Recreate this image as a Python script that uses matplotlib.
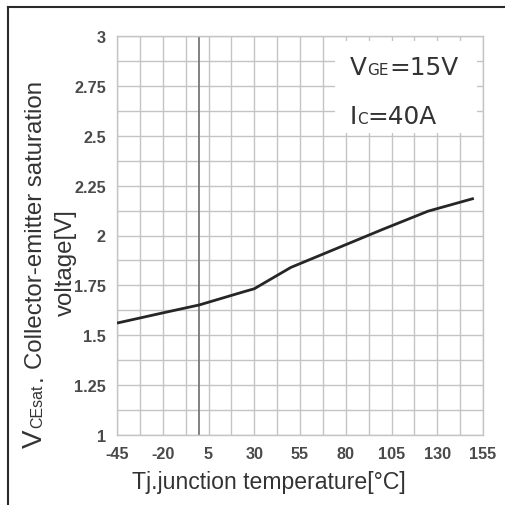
import matplotlib
matplotlib.use("Agg")
import matplotlib.pyplot as plt
from matplotlib.transforms import IdentityTransform
from matplotlib.patches import Rectangle
from matplotlib.lines import Line2D
import numpy as np

# ---- data ----
temps = [-45, -20, 0, 25, 30, 50, 75, 100, 125, 150]
vce = [1.561, 1.612, 1.652, 1.72, 1.733, 1.84, 1.935, 2.03, 2.122, 2.186]
xticks = [-45, -20, 5, 30, 55, 80, 105, 130, 155]
yticks = [1, 1.25, 1.5, 1.75, 2, 2.25, 2.5, 2.75, 3]
ytick_labels = ["1", "1.25", "1.5", "1.75", "2", "2.25", "2.5", "2.75", "3"]

W, H = 505, 506
fig = plt.figure(figsize=(W / 100, H / 100), dpi=100)
fig.patch.set_facecolor("white")

L, R, T, B = 117, 483, 37, 436
ax = fig.add_axes([L / W, (H - B) / H, (R - L) / W, (B - T) / H])
ax.set_xlim(-45, 155)
ax.set_ylim(1, 3)
ax.set_xticks(xticks)
ax.set_xticklabels([str(t) for t in xticks])
ax.set_yticks(yticks)
ax.set_yticklabels(ytick_labels)
ax.set_xticks(np.arange(-45, 156, 12.5), minor=True)
ax.set_yticks(np.arange(1, 3.01, 0.125), minor=True)
ax.set_axisbelow(True)
gridc = "#c4c4c4"
ax.grid(True, which="both", color=gridc, lw=1.0)
for s in ax.spines.values():
    s.set_color(gridc)
    s.set_linewidth(1.0)
ax.tick_params(which="both", length=0)
ax.tick_params(axis="x", pad=8)
ax.tick_params(axis="y", pad=8)
for lab in ax.get_xticklabels() + ax.get_yticklabels():
    lab.set_fontfamily("Liberation Sans")
    lab.set_fontweight("bold")
    lab.set_fontsize(11.7)
    lab.set_color("#4a4a4a")

ax.axvline(0, color="#777777", lw=1.3, zorder=0.8)

# white box behind annotation
ax.add_patch(Rectangle(((335 - L) / (R - L), (B - 134) / (B - T)),
                       (477 - 335) / (R - L), (134 - 42) / (B - T),
                       transform=ax.transAxes, facecolor="white",
                       edgecolor="none", zorder=1))

ax.plot(temps, vce, color="#262626", lw=2.0, zorder=3, solid_capstyle="butt")

# frame lines (top and left)
fig.add_artist(Line2D([8 / W, 1], [1 - 8 / H, 1 - 8 / H], transform=fig.transFigure,
                      color="#2a2a2a", lw=1.5))
fig.add_artist(Line2D([8 / W, 8 / W], [0, 1 - 8 / H], transform=fig.transFigure,
                      color="#2a2a2a", lw=1.5))

renderer = fig.canvas.get_renderer()
ident = IdentityTransform()


def seq_text(x, y, pieces, rotation=0, family="Liberation Sans", color="#333333"):
    for s, size, gap in pieces:
        if rotation == 0:
            x += gap
        else:
            y += gap
        t = fig.text(x, y, s, transform=ident, fontsize=size, rotation=rotation,
                     rotation_mode="anchor", ha="left", va="baseline",
                     family=family, color=color)
        bb = t.get_window_extent(renderer)
        if rotation == 0:
            x = bb.x1
        else:
            y = bb.y1


# annotation
seq_text(350, H - 75, [("V", 17.8, 0), ("GE", 11, 0), ("=15V", 17.8, 1)],
         family="DejaVu Sans", color="#333333")
seq_text(350, H - 124, [("I", 17.8, 0), ("C", 11, 0), ("=40A", 17.8, 0)],
         family="DejaVu Sans", color="#333333")

# y label (two lines)
seq_text(42, H - 448, [("V", 20, 0), ("CEsat", 11.5, 1), (".", 17.3, 4),
                        ("Collector-emitter saturation", 17.3, 5)], rotation=90)
fig.text(72, H - 262.5, "voltage[V]", transform=ident, fontsize=17.3, rotation=90,
         rotation_mode="anchor", ha="center", va="baseline",
         family="Liberation Sans", color="#333333")

# x label
fig.text(268.5, H - 489, "Tj.junction temperature[°C]", transform=ident, fontsize=16.6,
         ha="center", va="baseline", family="Liberation Sans", color="#333333")

fig.savefig("out.png", dpi=100)
